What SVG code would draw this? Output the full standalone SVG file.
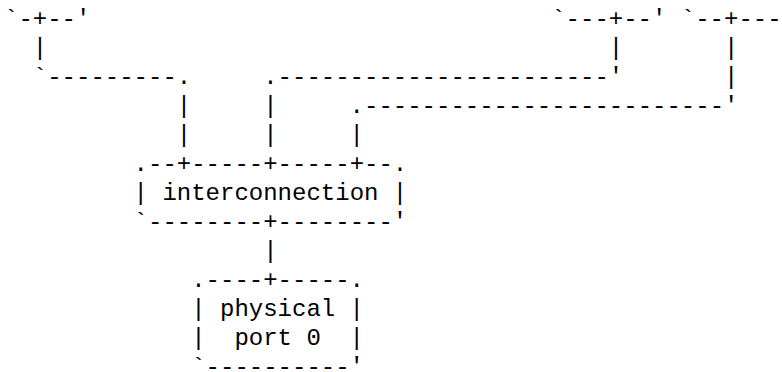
<svg xmlns="http://www.w3.org/2000/svg" width="782" height="372" viewBox="0 0 782 372">
<style>
text { font-family: "Liberation Mono", "Courier New", monospace; font-size: 24px; fill: #000000; white-space: pre; }
</style>
<rect x="0" y="0" width="782" height="372" fill="#ffffff"/>
<g id="box-top-left"><text x="4" y="25.5" xml:space="preserve">`-+--'</text></g>
<g id="box-top-middle"><text x="551.2" y="25.5" xml:space="preserve">`---+--'</text></g>
<g id="box-top-right"><text x="680.8" y="25.5" xml:space="preserve">`--+---</text></g>
<g id="connectors">
<text x="32.8" y="54.5">|</text>
<text x="608.8" y="54.5">|</text>
<text x="724" y="54.5">|</text>
<text x="32.8" y="83.6">`---------.</text>
<text x="263.2" y="83.6">.-----------------------'</text>
<text x="724" y="83.6">|</text>
<text x="176.8" y="112.6">|</text>
<text x="263.2" y="112.6">|</text>
<text x="349.6" y="112.6">.-------------------------'</text>
<text x="176.8" y="141.7">|</text>
<text x="263.2" y="141.7">|</text>
<text x="349.6" y="141.7">|</text>
<text x="263.2" y="257.9">|</text>
</g>
<g id="node-interconnection">
<text x="133.6" y="170.7" xml:space="preserve">.--+-----+-----+--.</text>
<text x="133.6" y="199.8" xml:space="preserve">| interconnection |</text>
<text x="133.6" y="228.8" xml:space="preserve">`--------+--------'</text>
</g>
<g id="node-physical-port-0">
<text x="191.2" y="286.9" xml:space="preserve">.----+-----.</text>
<text x="191.2" y="316" xml:space="preserve">| physical |</text>
<text x="191.2" y="345" xml:space="preserve">|  port 0  |</text>
<text x="191.2" y="374.1" xml:space="preserve">`----------'</text>
</g>
</svg>
